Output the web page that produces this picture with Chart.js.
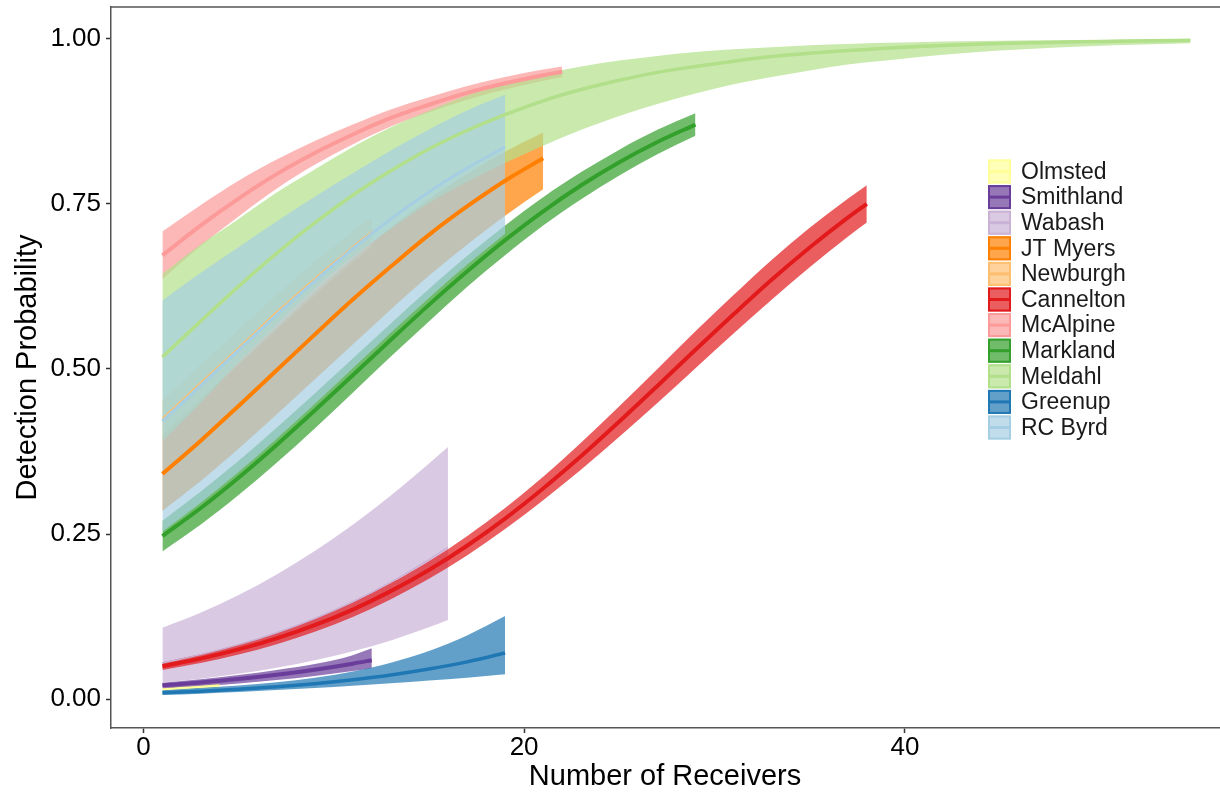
<!DOCTYPE html>
<html lang="en">
<head>
<meta charset="UTF-8">
<title>Detection Probability by Number of Receivers</title>
<script src="https://cdn.jsdelivr.net/npm/chart.js@4"></script>
<style>
  body { margin: 0; background: #fff; }
  #wrap { width: 1220px; height: 796px; position: relative; }
</style>
</head>
<body>
<div id="wrap"><canvas id="detChart"></canvas></div>
<script>
// fitted detection probability (fit) with lower/upper confidence band, per site
const olmstedX = [1, 2, 3, 4];
const olmstedFit = [0.015, 0.017, 0.019, 0.021];
const olmstedLo = [0.013, 0.0145, 0.016, 0.0175];
const olmstedHi = [0.017, 0.0195, 0.022, 0.025];

const smithlandX = [1, 3, 5, 7, 9, 11, 12];
const smithlandFit = [0.021, 0.0254, 0.0307, 0.0371, 0.0447, 0.0538, 0.059];
const smithlandLo = [0.016, 0.0195, 0.0237, 0.0289, 0.0352, 0.0427, 0.047];
const smithlandHi = [0.0248, 0.0302, 0.0366, 0.0444, 0.0532, 0.0666, 0.077];

const wabashX = [1, 3, 5, 7, 9, 11, 13, 15, 16];
const wabashFit = [0.055, 0.0675, 0.0826, 0.1007, 0.1222, 0.1475, 0.1772, 0.2113, 0.23];
const wabashLo = [0.025, 0.031, 0.0385, 0.0476, 0.0588, 0.0725, 0.089, 0.1088, 0.12];
const wabashHi = [0.108, 0.1308, 0.1576, 0.1887, 0.2243, 0.2643, 0.3085, 0.3569, 0.382];

const jtMyersX = [1, 3, 5, 7, 9, 11, 13, 15, 17, 19, 21];
const jtMyersFit = [0.341, 0.391, 0.444, 0.498, 0.552, 0.605, 0.655, 0.703, 0.746, 0.785, 0.819];
const jtMyersLo = [0.285, 0.330, 0.379, 0.431, 0.484, 0.537, 0.590, 0.641, 0.688, 0.732, 0.772];
const jtMyersHi = [0.400, 0.454, 0.509, 0.563, 0.617, 0.667, 0.714, 0.757, 0.795, 0.829, 0.858];

const newburghX = [1, 3, 5, 7, 9, 11, 12];
const newburghFit = [0.425, 0.479, 0.532, 0.586, 0.637, 0.685, 0.708];
const newburghLo = [0.400, 0.453, 0.506, 0.559, 0.611, 0.661, 0.685];
const newburghHi = [0.452, 0.506, 0.559, 0.612, 0.662, 0.708, 0.730];

const canneltonX = [1, 3, 5, 7, 9, 11, 13, 15, 17, 19, 21, 23, 25, 27, 29, 31, 33, 35, 37, 38];
const canneltonFit = [0.050, 0.0615, 0.0754, 0.0921, 0.112, 0.1357, 0.1636, 0.1956, 0.2323, 0.2735,
  0.3191, 0.3682, 0.4204, 0.4743, 0.529, 0.5827, 0.635, 0.6838, 0.729, 0.75];
const canneltonLo = [0.0443, 0.0549, 0.0677, 0.0833, 0.1021, 0.1246, 0.1513, 0.1822, 0.2177, 0.2576,
  0.3013, 0.3477, 0.3972, 0.4486, 0.5011, 0.5535, 0.6049, 0.654, 0.7002, 0.7219];
const canneltonHi = [0.056, 0.0681, 0.0831, 0.1009, 0.1219, 0.1468, 0.1759, 0.209, 0.2469, 0.2894,
  0.3369, 0.3887, 0.4436, 0.5, 0.5569, 0.6119, 0.6651, 0.7136, 0.7578, 0.7781];

const mcAlpineX = [1, 3, 5, 7, 9, 11, 13, 15, 17, 19, 21, 22];
const mcAlpineFit = [0.672, 0.717, 0.758, 0.795, 0.827, 0.855, 0.880, 0.900, 0.918, 0.9325, 0.9447, 0.950];
const mcAlpineLo = [0.636, 0.686, 0.731, 0.773, 0.809, 0.840, 0.867, 0.8885, 0.9076, 0.9231, 0.9362, 0.9419];
const mcAlpineHi = [0.708, 0.748, 0.785, 0.817, 0.845, 0.870, 0.893, 0.9115, 0.9284, 0.9419, 0.9532, 0.9581];

const marklandX = [1, 3, 5, 7, 9, 11, 13, 15, 17, 19, 21, 23, 25, 27, 29];
const marklandFit = [0.247, 0.2891, 0.3353, 0.3849, 0.437, 0.4905, 0.5442, 0.597, 0.6475, 0.695,
  0.7387, 0.7781, 0.813, 0.8436, 0.870];
const marklandLo = [0.2237, 0.264, 0.309, 0.358, 0.410, 0.464, 0.519, 0.572, 0.624, 0.672,
  0.717, 0.757, 0.793, 0.825, 0.853];
const marklandHi = [0.2703, 0.314, 0.361, 0.411, 0.463, 0.516, 0.569, 0.621, 0.671, 0.717,
  0.760, 0.798, 0.832, 0.862, 0.887];

const meldahlX = [1, 3, 5, 7, 9, 11, 13, 15, 17, 19, 21, 23, 25, 27, 29, 31, 33, 35, 37, 39,
  41, 43, 45, 47, 49, 51, 53, 55];
const meldahlFit = [0.518, 0.572, 0.625, 0.675, 0.721, 0.763, 0.800, 0.833, 0.861, 0.885,
  0.906, 0.923, 0.937, 0.949, 0.958, 0.966, 0.973, 0.978, 0.982, 0.9857,
  0.9885, 0.9907, 0.9926, 0.994, 0.9952, 0.9961, 0.9969, 0.9975];
const meldahlLo = [0.390, 0.448, 0.510, 0.567, 0.622, 0.670, 0.712, 0.751, 0.783, 0.812,
  0.838, 0.862, 0.883, 0.901, 0.917, 0.931, 0.942, 0.952, 0.961, 0.967,
  0.973, 0.978, 0.982, 0.985, 0.9877, 0.9899, 0.9917, 0.9932];
const meldahlHi = [0.644, 0.688, 0.727, 0.767, 0.802, 0.836, 0.866, 0.891, 0.914, 0.932,
  0.947, 0.958, 0.967, 0.974, 0.980, 0.984, 0.987, 0.990, 0.992, 0.9938,
  0.9951, 0.9961, 0.9969, 0.9976, 0.9981, 0.9985, 0.9988, 0.9991];

const greenupX = [1, 3, 5, 7, 9, 11, 13, 15, 17, 19];
const greenupFit = [0.0096, 0.012, 0.0151, 0.0188, 0.0235, 0.0294, 0.0366, 0.0456, 0.0565, 0.070];
const greenupLo = [0.0065, 0.0084, 0.0109, 0.0138, 0.017, 0.0205, 0.0241, 0.0282, 0.0325, 0.0377];
const greenupHi = [0.0143, 0.0172, 0.0208, 0.0258, 0.0325, 0.042, 0.0552, 0.073, 0.0966, 0.126];

const rcByrdX = [1, 3, 5, 7, 9, 11, 13, 15, 17, 19];
const rcByrdFit = [0.421, 0.4745, 0.5285, 0.582, 0.633, 0.682, 0.727, 0.768, 0.804, 0.836];
const rcByrdLo = [0.2537, 0.297, 0.3439, 0.3944, 0.447, 0.501, 0.5548, 0.6075, 0.6577, 0.7047];
const rcByrdHi = [0.6037, 0.6452, 0.6844, 0.7233, 0.7608, 0.7964, 0.8306, 0.8626, 0.8913, 0.915];

const siteNames = ['Olmsted', 'Smithland', 'Wabash', 'JT Myers', 'Newburgh', 'Cannelton',
  'McAlpine', 'Markland', 'Meldahl', 'Greenup', 'RC Byrd'];
const xTicks = [0, 20, 40];
const yTicks = [0, 0.25, 0.5, 0.75, 1];

// styling, same order as siteNames
const siteColors = ['#FFFF99', '#6A3D9A', '#CAB2D6', '#FF7F00', '#FDBF6F', '#E31A1C',
  '#FB9A99', '#33A02C', '#B2DF8A', '#1F78B4', '#A6CEE3'];
const lineWidths = [2, 4, 1.5, 4, 1.5, 4, 4, 4, 3.5, 3.5, 3];
const FONT = "'Liberation Sans', Arial, sans-serif";

const sites = [
  [olmstedX, olmstedFit, olmstedLo, olmstedHi],
  [smithlandX, smithlandFit, smithlandLo, smithlandHi],
  [wabashX, wabashFit, wabashLo, wabashHi],
  [jtMyersX, jtMyersFit, jtMyersLo, jtMyersHi],
  [newburghX, newburghFit, newburghLo, newburghHi],
  [canneltonX, canneltonFit, canneltonLo, canneltonHi],
  [mcAlpineX, mcAlpineFit, mcAlpineLo, mcAlpineHi],
  [marklandX, marklandFit, marklandLo, marklandHi],
  [meldahlX, meldahlFit, meldahlLo, meldahlHi],
  [greenupX, greenupFit, greenupLo, greenupHi],
  [rcByrdX, rcByrdFit, rcByrdLo, rcByrdHi]
];

function rgba(hex, a) {
  const n = parseInt(hex.slice(1), 16);
  return `rgba(${n >> 16}, ${(n >> 8) & 255}, ${n & 255}, ${a})`;
}
const pts = (xs, ys) => xs.map((x, i) => ({ x: x, y: ys[i] }));

const datasets = [];
// ribbons: first site drawn at the back
sites.forEach((s, i) => {
  const [xs, fit, lo, hi] = s;
  datasets.push({
    label: siteNames[i] + ' lower', data: pts(xs, lo), order: 100 - i,
    borderWidth: 0, borderColor: 'transparent', pointRadius: 0, fill: false,
    cubicInterpolationMode: 'monotone'
  });
  datasets.push({
    label: siteNames[i] + ' upper', data: pts(xs, hi), order: 100 - i,
    borderWidth: 0, borderColor: 'transparent', pointRadius: 0, fill: '-1',
    backgroundColor: rgba(siteColors[i], 0.7), cubicInterpolationMode: 'monotone'
  });
});
// fitted lines on top of all ribbons
sites.forEach((s, i) => {
  const [xs, fit] = s;
  datasets.push({
    label: siteNames[i], data: pts(xs, fit), order: -i,
    borderColor: siteColors[i], borderWidth: lineWidths[i], pointRadius: 0, fill: false,
    cubicInterpolationMode: 'monotone', borderCapStyle: 'butt'
  });
});

const frameAndLegend = {
  id: 'frameAndLegend',
  afterDraw(chart) {
    const { ctx, chartArea } = chart;
    ctx.save();
    // top frame line
    ctx.strokeStyle = '#555';
    ctx.lineWidth = 1.5;
    ctx.beginPath();
    ctx.moveTo(chartArea.left, chartArea.top);
    ctx.lineTo(chart.width, chartArea.top);
    ctx.stroke();

    // legend keys inside the panel
    const kx = 988, ky = 159.5, kw = 23, kh = 24, step = 25.6;
    ctx.font = '23px ' + FONT;
    ctx.textBaseline = 'middle';
    siteNames.forEach((name, i) => {
      const y = ky + i * step;
      ctx.fillStyle = '#fff';
      ctx.fillRect(kx, y, kw, kh);
      ctx.fillStyle = rgba(siteColors[i], 0.7);
      ctx.fillRect(kx, y, kw, kh);
      ctx.strokeStyle = siteColors[i];
      ctx.lineWidth = 2;
      ctx.strokeRect(kx + 1, y + 1, kw - 2, kh - 2);
      ctx.lineWidth = 3;
      ctx.beginPath();
      ctx.moveTo(kx + 1, y + kh / 2);
      ctx.lineTo(kx + kw - 1, y + kh / 2);
      ctx.stroke();
      ctx.fillStyle = '#1a1a1a';
      ctx.fillText(name, 1021, y + kh / 2 + 1);
    });
    ctx.restore();
  }
};

new Chart(document.getElementById('detChart'), {
  type: 'line',
  data: { datasets: datasets },
  plugins: [frameAndLegend],
  options: {
    responsive: true,
    maintainAspectRatio: false,
    animation: false,
    events: [],
    layout: { autoPadding: false, padding: { top: 7, right: 1, left: 0, bottom: 0 } },
    plugins: {
      legend: { display: false },
      tooltip: { enabled: false },
      filler: { propagate: false }
    },
    scales: {
      x: {
        type: 'linear',
        min: -1.7,
        max: 56.5,
        afterBuildTicks: s => { s.ticks = xTicks.map(v => ({ value: v })); },
        afterFit: s => { s.height = 68; s.paddingLeft = 0; s.paddingRight = 0; },
        ticks: {
          color: '#000', padding: -1, maxRotation: 0,
          font: { family: FONT, size: 26 },
          callback: v => String(v)
        },
        grid: { display: true, drawOnChartArea: false, drawTicks: true, tickLength: 5, tickColor: '#333', tickWidth: 1.5 },
        border: { display: true, color: '#555', width: 1.5 },
        title: {
          display: true, text: 'Number of Receivers', color: '#000',
          font: { family: FONT, size: 29 }, padding: { top: 0, bottom: 2 }
        }
      },
      y: {
        min: -0.0436,
        max: 1.048,
        afterBuildTicks: s => { s.ticks = yTicks.map(v => ({ value: v })); },
        afterFit: s => { s.width = 111; s.paddingTop = 0; s.paddingBottom = 0; },
        ticks: {
          color: '#000', padding: 5,
          font: { family: FONT, size: 26 },
          callback: v => Number(v).toFixed(2)
        },
        grid: { display: true, drawOnChartArea: false, drawTicks: true, tickLength: 5, tickColor: '#333', tickWidth: 1.5 },
        border: { display: true, color: '#555', width: 1.5 },
        title: {
          display: true, text: 'Detection Probability', color: '#000',
          font: { family: FONT, size: 29 }, padding: { top: 11, bottom: 0 }
        }
      }
    }
  }
});
</script>
</body>
</html>
